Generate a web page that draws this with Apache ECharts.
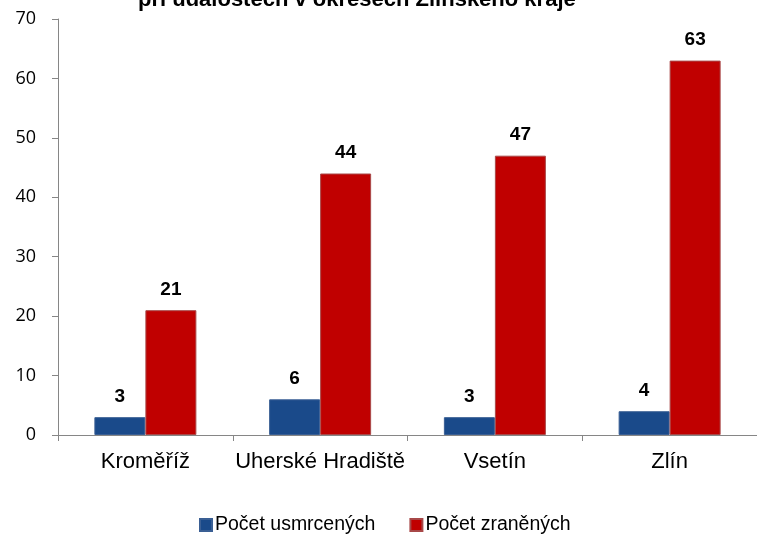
<!DOCTYPE html>
<html><head><meta charset="utf-8">
<script src="https://cdn.jsdelivr.net/npm/echarts@6/dist/echarts.min.js"></script>
<style>html,body{margin:0;padding:0;background:#fff}#c{width:757px;height:535px}</style>
</head><body><div id="c"></div>
<script>
var categories = ["Kroměříž", "Uherské Hradiště", "Vsetín", "Zlín"];
var killed = [3, 6, 3, 4];
var injured = [21, 44, 47, 63];
var seriesNames = ["Počet usmrcených", "Počet zraněných"];
var titleText = "při událostech v okresech Zlínského kraje";

var chart = echarts.init(document.getElementById('c'), null, {renderer: 'canvas'});
var font = 'Arial, "Liberation Sans", sans-serif';
chart.setOption({
  animation: false,
  title: {
    text: titleText, left: 133, top: -16,
    textStyle: {fontFamily: font, fontSize: 22, fontWeight: 'bold', color: '#000'}
  },
  legend: {
    top: 510, left: 194, itemWidth: 12, itemHeight: 12, itemGap: 34,
    icon: 'rect',
    textStyle: {fontFamily: font, fontSize: 19.5, color: '#000', padding: [0,0,0,-2]},
    data: seriesNames
  },
  grid: {left: 58, top: 19, width: 704, height: 416},
  xAxis: {
    type: 'category', data: categories,
    axisLine: {lineStyle: {color: '#868686', width: 1}},
    axisTick: {show: true, length: 6, interval: 0, lineStyle: {color: '#868686'}},
    axisLabel: {fontFamily: font, fontSize: 22, color: '#000', margin: 16, interval: 0}
  },
  yAxis: {
    type: 'value', min: 0, max: 70, interval: 10,
    splitLine: {show: false},
    axisLine: {show: true, lineStyle: {color: '#868686', width: 1}},
    axisTick: {show: true, length: 6, lineStyle: {color: '#868686'}},
    axisLabel: {fontFamily: '"Open Sans", Arial, sans-serif', fontSize: 18, color: '#000', margin: 22}
  },
  series: [
    {name: seriesNames[0], type: 'bar', data: killed, barWidth: 51, barGap: '0%',
     itemStyle: {color: '#1A4A8A', borderColor: '#3A5F94', borderWidth: 1},
     label: {show: true, position: 'top', distance: 11, fontFamily: font, fontSize: 19, fontWeight: 'bold', color: '#000'}},
    {name: seriesNames[1], type: 'bar', data: injured, barWidth: 51, barGap: '0%',
     itemStyle: {color: '#C00000', borderColor: '#A84848', borderWidth: 1},
     label: {show: true, position: 'top', distance: 11, fontFamily: font, fontSize: 19, fontWeight: 'bold', color: '#000'}}
  ]
});
</script></body></html>
